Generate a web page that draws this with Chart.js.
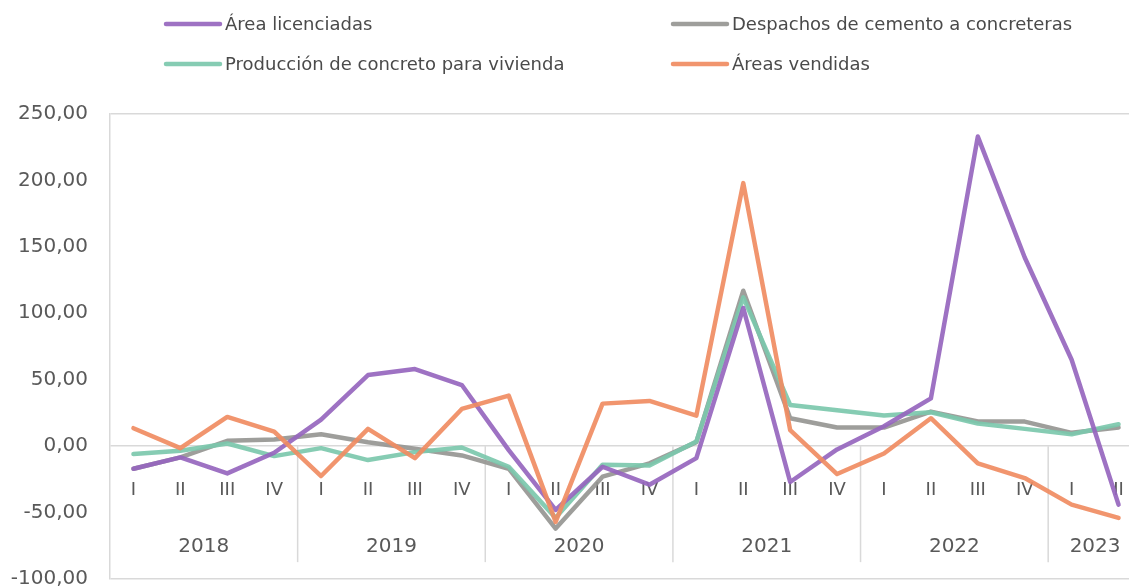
<!DOCTYPE html>
<html>
<head>
<meta charset="utf-8">
<script src="https://cdn.jsdelivr.net/npm/chart.js@4.4.0/dist/chart.umd.min.js"></script>
<style>
  html, body { margin: 0; padding: 0; background: #fff; overflow: hidden; }
  canvas { display: block; }
</style>
</head>
<body>
<canvas id="grafico" width="1150" height="588"></canvas>
<script>
// Datos: variación anual (%) por trimestre, 2018-I a 2023-II
const trimestres = ['I','II','III','IV','I','II','III','IV','I','II','III','IV','I','II','III','IV','I','II','III','IV','I','II'];
const anios = ['2018','2019','2020','2021','2022','2023'];
const trimestresPorAnio = [4, 4, 4, 4, 4, 2];

const areaLicenciada = [-17, -8.5, -20.5, -5, 20, 53.5, 58, 46, -3, -48, -15.5, -29, -9, 104, -27, -2.5, 15, 36, 233, 142, 65, -44];
const despachosCemento = [-17, -8.5, 4, 5, 9, 3, -2, -7, -17, -62, -23, -13, 3, 117, 21, 14, 14, 26, 18.5, 18.5, 10, 14];
const produccionConcreto = [-6, -3.5, 2, -7.5, -1.5, -10.5, -4.5, -1, -15.5, -54, -14, -14.5, 3.5, 112, 31, 27, 23, 25.5, 17, 13, 9, 16.5];
const areasVendidas = [13.5, -1.5, 22, 11, -22.5, 13, -9, 28, 38, -57, 32, 34, 23, 198, 12, -21, -5.5, 21, -13, -24, -44, -54];

const ticksY = [-100, -50, 0, 50, 100, 150, 200, 250];

const GRIS_LINEA = '#d9d9d9';
const GRIS_TEXTO = '#595959';
const FUENTE = '"DejaVu Sans", sans-serif';

function serie(label, data, color, orden) {
  return {
    label: label,
    data: data,
    borderColor: color,
    backgroundColor: color,
    borderWidth: 4.5,
    borderJoinStyle: 'round',
    borderCapStyle: 'round',
    pointRadius: 0,
    tension: 0,
    order: orden
  };
}

// Etiquetas de trimestres y años, con separadores entre años
const ejeCategorias = {
  id: 'ejeCategorias',
  beforeDatasetsDraw(chart) {
    const { ctx, scales: { x, y } } = chart;
    const y0 = y.getPixelForValue(0);
    const medio = (x.getPixelForValue(1) - x.getPixelForValue(0)) / 2;
    ctx.save();
    ctx.fillStyle = GRIS_TEXTO;
    ctx.textAlign = 'center';
    ctx.textBaseline = 'middle';
    ctx.font = '18px ' + FUENTE;
    trimestres.forEach((t, i) => ctx.fillText(t, x.getPixelForValue(i), y0 + 44));

    ctx.font = '20px ' + FUENTE;
    ctx.strokeStyle = GRIS_LINEA;
    ctx.lineWidth = 1.5;
    let inicio = 0;
    anios.forEach((a, k) => {
      const fin = inicio + trimestresPorAnio[k] - 1;
      const izq = x.getPixelForValue(inicio) - medio;
      const der = x.getPixelForValue(fin) + medio;
      ctx.fillText(a, (izq + der) / 2, y0 + 101);
      if (k > 0) {
        ctx.beginPath();
        ctx.moveTo(izq, y0);
        ctx.lineTo(izq, y0 + 116);
        ctx.stroke();
      }
      inicio = fin + 1;
    });
    ctx.restore();
  }
};

// Leyenda en dos columnas, como en el original
const leyenda = {
  id: 'leyenda',
  afterDraw(chart) {
    const { ctx } = chart;
    const columnas = [166, 673];
    const filas = [24, 64];
    ctx.save();
    ctx.font = '18px ' + FUENTE;
    ctx.textBaseline = 'middle';
    ctx.textAlign = 'left';
    chart.data.datasets.forEach((ds, n) => {
      const cx = columnas[n % 2];
      const cy = filas[Math.floor(n / 2)];
      ctx.strokeStyle = ds.borderColor;
      ctx.lineWidth = 4.5;
      ctx.lineCap = 'round';
      ctx.beginPath();
      ctx.moveTo(cx, cy);
      ctx.lineTo(cx + 54, cy);
      ctx.stroke();
      ctx.fillStyle = '#4a4a4a';
      ctx.fillText(ds.label, cx + 59, cy + 1);
    });
    ctx.restore();
  }
};

const ctx = document.getElementById('grafico').getContext('2d');
new Chart(ctx, {
  type: 'line',
  data: {
    labels: trimestres,
    datasets: [
      serie('Área licenciadas', areaLicenciada, 'rgba(150, 102, 190, 0.92)', 1),
      serie('Despachos de cemento a concreteras', despachosCemento, 'rgba(150, 150, 146, 0.92)', 3),
      serie('Producción de concreto para vivienda', produccionConcreto, 'rgba(124, 200, 172, 0.92)', 2),
      serie('Áreas vendidas', areasVendidas, 'rgba(240, 140, 98, 0.92)', 0)
    ]
  },
  options: {
    responsive: false,
    animation: false,
    devicePixelRatio: 1,
    layout: { padding: { top: 114, bottom: 9, left: 0, right: 8 } },
    plugins: {
      legend: { display: false },
      tooltip: { enabled: false }
    },
    scales: {
      x: {
        display: false,
        offset: true
      },
      y: {
        min: -100,
        max: 250,
        afterBuildTicks: s => { s.ticks = ticksY.map(v => ({ value: v })); },
        afterFit: s => {
          s.width = 110;
          // el padding de las etiquetas no debe encoger el área del gráfico
          s.paddingTop = 0;
          s.paddingBottom = 0;
        },
        ticks: {
          padding: 22,
          color: GRIS_TEXTO,
          font: { family: FUENTE, size: 20 },
          callback: v => v.toFixed(2).replace('.', ',')
        },
        grid: {
          drawTicks: false,
          lineWidth: 1.5,
          color: c => (c.tick && [0, 250, -100].includes(c.tick.value)) ? GRIS_LINEA : 'rgba(0,0,0,0)'
        },
        border: { color: GRIS_LINEA, width: 1.5 }
      }
    }
  },
  plugins: [ejeCategorias, leyenda]
});
</script>
</body>
</html>
